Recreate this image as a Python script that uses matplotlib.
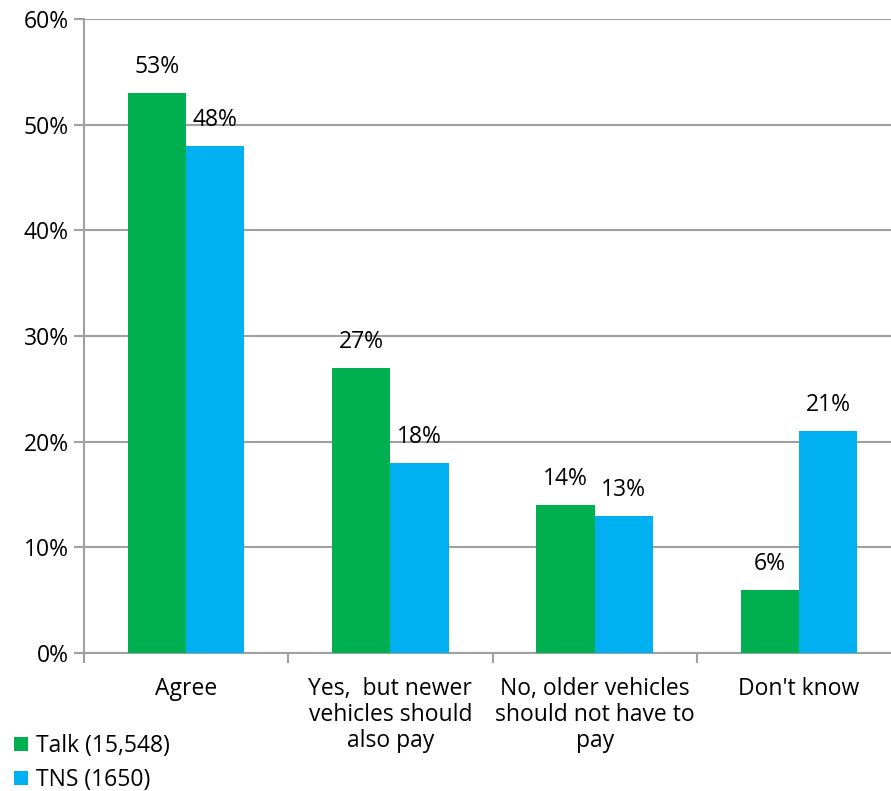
import matplotlib.pyplot as plt
import numpy as np

plt.rcParams['font.family'] = ['Open Sans', 'DejaVu Sans']

categories = ["Agree", "Yes,  but newer\nvehicles should\nalso pay",
              "No, older vehicles\nshould not have to\npay", "Don't know"]
talk = [53, 27, 14, 6]
tns = [48, 18, 13, 21]
series_names = ["Talk (15,548)", "TNS (1650)"]
green = "#00B050"
blue = "#00B0F0"
grid_col = "#A0A0A0"
fs = 16.5

fig = plt.figure(figsize=(8.91, 7.91), dpi=100)
ax = fig.add_axes([84 / 891, 1 - 653 / 791, 817 / 891, (653 - 19) / 791])

x = np.arange(len(categories))
w = 0.285
b1 = ax.bar(x - w / 2, talk, w, color=green, label=series_names[0], zorder=3)
b2 = ax.bar(x + w / 2, tns, w, color=blue, label=series_names[1], zorder=3)

for bars, vals in ((b1, talk), (b2, tns)):
    for r, v in zip(bars, vals):
        ax.text(r.get_x() + r.get_width() / 2, v + 1.3, f"{v}%",
                ha="center", va="bottom", fontsize=fs)

ax.set_xlim(-0.5, 3.5)
ax.set_ylim(0, 60)
ax.set_yticks(range(0, 61, 10))
ax.set_yticklabels([f"{t}%" for t in range(0, 61, 10)], fontsize=fs)
ax.yaxis.grid(True, color=grid_col, linewidth=1.5, zorder=0)
ax.set_axisbelow(True)

ax.set_xticks(x)
ax.set_xticklabels(categories, fontsize=fs, linespacing=1.12)
ax.set_xticks(np.arange(-0.5, 4, 1), minor=True)
ax.tick_params(axis="x", which="major", length=0, pad=17)
ax.tick_params(axis="x", which="minor", length=7, width=1.5, color=grid_col, direction="out")
ax.tick_params(axis="y", length=7, width=1.5, color=grid_col, pad=4)

for s in ("top", "right"):
    ax.spines[s].set_visible(False)
for s in ("left", "bottom"):
    ax.spines[s].set_color(grid_col)
    ax.spines[s].set_linewidth(1.5)

fig.legend(handles=[b1, b2], loc="lower left", bbox_to_anchor=(0.0, -0.019),
           frameon=False, fontsize=fs, handlelength=0.6, handleheight=0.6,
           handletextpad=0.35, labelspacing=0.45, borderaxespad=0.2)

fig.savefig("out.png", dpi=100)
